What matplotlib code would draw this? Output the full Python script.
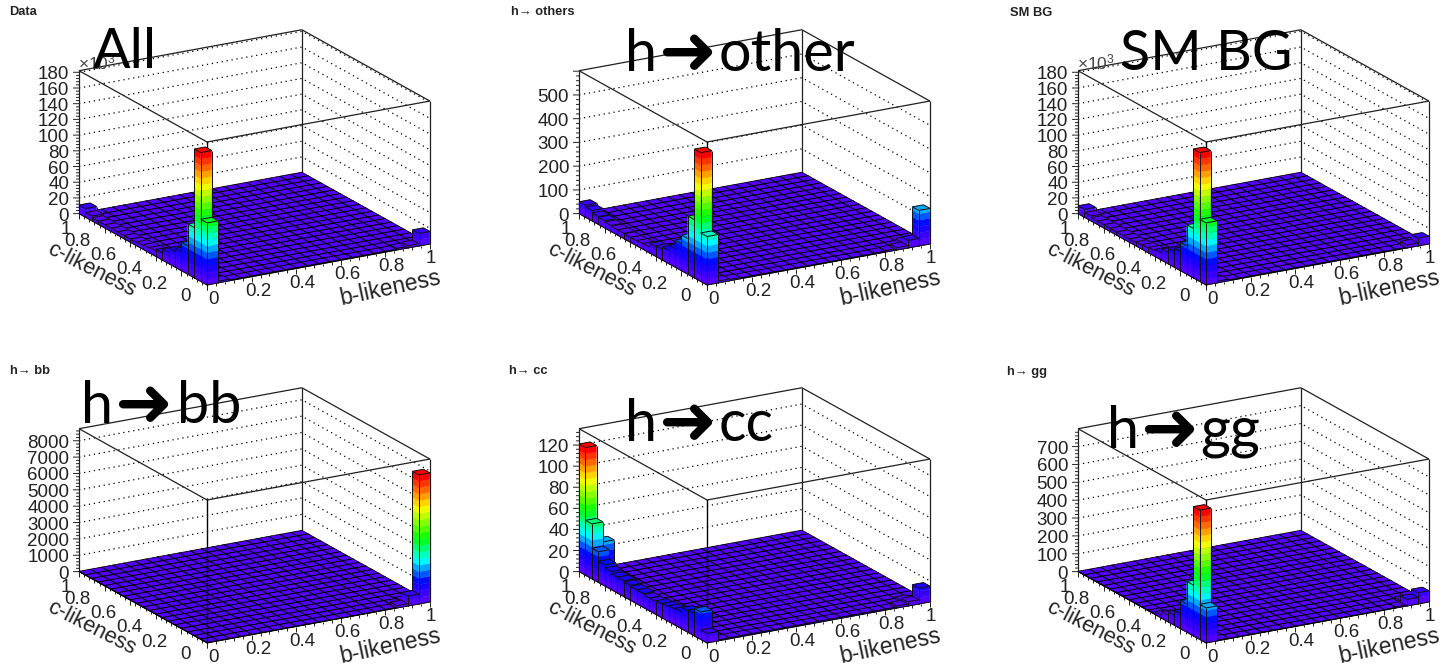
import numpy as np
import matplotlib
matplotlib.use("Agg")
import matplotlib.pyplot as plt
from matplotlib.colors import LinearSegmentedColormap
from mpl_toolkits.mplot3d import proj3d
from mpl_toolkits.mplot3d.art3d import Poly3DCollection, Line3DCollection

W, H = 1445, 664
N_BINS = 20

# ------- data -----------------------------
# panel order: Data, others, bb, cc, gg, SM BG
titles = ["Data", "h\u2192 others", "h\u2192 bb", "h\u2192 cc", "h\u2192 gg", "SM BG"]
big_left = ["All", "h", "h", "h", "h", "SM BG"]
big_right = ["", "other", "bb", "cc", "gg", ""]
z_tops = [182, 602, 8735, 135.5, 800, 182]
z_steps = [20, 100, 1000, 20, 100, 20]
z_last = [180, 500, 8000, 120, 700, 180]
floors = [0.6, 2, 20, 0.5, 2, 0.6]

# heights along c at the first b bin
all_c_row = [79, 164, 64, 36, 24, 20, 14, 9, 7, 6, 5, 4, 4, 4, 4, 4, 4, 4, 6, 11]
others_c_row = [204, 542, 245, 150, 114, 78, 55, 45, 40, 25, 22, 20, 20, 22, 22, 25, 30, 33, 43, 50]
bb_c_row = [20, 20, 20, 20, 20, 20, 20, 20, 20, 20, 20, 20, 20, 20, 20, 20, 20, 20, 20, 20]
cc_c_row = [9, 26, 21, 20, 16, 15, 14, 13, 12, 12, 13, 13, 14, 15, 15, 17, 20, 29, 52, 121]
gg_c_row = [196, 723, 284, 157, 84, 56, 35, 15, 5, 3, 2, 2, 2, 2, 2, 2, 2, 2, 2, 2]
smbg_c_row = [79, 164, 63, 36, 24, 20, 14, 9, 7, 6, 5, 4, 4, 4, 4, 4, 4, 4, 6, 10]

# heights along b at the first c bin
all_b_row = [79, 2, 1, 1, 1, 1, 1, 1, 1, 1, 1, 1, 1, 1, 1, 1, 1, 2, 3, 16]
others_b_row = [204, 8, 5, 4, 4, 3, 3, 3, 3, 3, 3, 3, 3, 3, 3, 4, 6, 10, 32, 150]
bb_b_row = [20, 20, 20, 20, 20, 20, 20, 20, 20, 20, 20, 20, 20, 20, 25, 30, 40, 150, 610, 7890]
cc_b_row = [9, 1, 1, 1, 1, 1, 1, 1, 1, 1, 1, 1, 1, 1, 1, 1, 1, 2, 4, 15]
gg_b_row = [196, 4, 2, 2, 2, 2, 2, 2, 2, 2, 2, 2, 2, 2, 2, 2, 3, 6, 37, 63]
smbg_b_row = [79, 2, 1, 1, 1, 1, 1, 1, 1, 1, 1, 1, 1, 1, 1, 1, 1, 1, 4, 10]

# a few cells off those two rows: b bin, c bin, height
others_extra = [(1, 1, 8), (18, 1, 10)]
bb_extra = [(18, 1, 100), (19, 1, 60), (17, 1, 30)]
cc_extra = [(1, 18, 33), (1, 19, 6), (1, 17, 6), (18, 1, 2)]
gg_extra = [(18, 1, 10)]

c_rows = [all_c_row, others_c_row, bb_c_row, cc_c_row, gg_c_row, smbg_c_row]
b_rows = [all_b_row, others_b_row, bb_b_row, cc_b_row, gg_b_row, smbg_b_row]
extras = [[], others_extra, bb_extra, cc_extra, gg_extra, []]

# ------- layout, in pixels of the picture --------
panel_dx = [0, 500, 0, 500, 999, 999]
panel_dy = [0, 0, 358, 358, 358, 0]
title_pos = [(9, 12), (511, 12), (10, 371), (509, 371), (1007, 372), (1010, 13)]
big_pos = [(93, 68), (625, 71), (81, 423), (625, 441), (1107, 448), (1120, 70)]
arrow_x = [None, 658, 114, 658, 1140, None]
right_x = [None, 719, 177, 719, 1200, None]
exp_pos = {0: (78, 62), 5: (1077, 62)}
AX_SIZE = 382
AX_LEFT = 58.3
AX_TOP = -28.5

rainbow = LinearSegmentedColormap.from_list(
    "root_rainbow",
    [(0.0, "#5400ff"), (0.15, "#0000ff"), (0.32, "#00ffff"), (0.5, "#00ff00"),
     (0.75, "#ffff00"), (1.0, "#ff0000")])

plt.rcParams["font.family"] = ["Liberation Sans", "DejaVu Sans"]
plt.rcParams["mathtext.default"] = "regular"
TEXT = "#222222"


def put_text(ax, b, c, z, s, dx, dy, **kw):
    # text at a 3d point, shifted by some pixels on the screen
    x2, y2, _ = proj3d.proj_transform(b, c, z, ax.get_proj())
    ax.annotate(s, (x2, y2), xytext=(dx, -dy - 2.5), textcoords="offset pixels",
                annotation_clip=False, zorder=5000, color=TEXT, **kw)


def band_color(z, hmax):
    k = min(int(z / hmax * 20), 19)
    return rainbow(k / 19)


def side_faces(x0, x1, y0, y1, h, hmax):
    polys, cols = [], []
    levels = [lv for lv in np.linspace(0, hmax, 21) if lv < h] + [h]
    for lo, hi in zip(levels[:-1], levels[1:]):
        col = band_color((lo + hi) / 2, hmax)
        polys.append([(x0, y0, lo), (x0, y1, lo), (x0, y1, hi), (x0, y0, hi)])
        polys.append([(x0, y0, lo), (x1, y0, lo), (x1, y0, hi), (x0, y0, hi)])
        cols += [col, col]
    return polys, cols


def top_face(x0, x1, y0, y1, h, hmax):
    return [(x0, y0, h), (x1, y0, h), (x1, y1, h), (x0, y1, h)], band_color(h * 0.999, hmax)


def draw_frame(ax, zt, step, last):
    z_major = np.arange(0, last + step / 2, step)
    z_minor = np.arange(0, zt, step / 5)
    # dotted grid on the two back walls
    for z in z_major:
        ax.plot([0, 1, 1], [1, 1, 0], [z, z, z], color="k", lw=0.9,
                ls=(0, (1, 3)), zorder=1)
    # box edges
    edges = [[(0, 1, zt), (1, 1, zt)], [(1, 1, zt), (1, 0, zt)],
             [(1, 0, zt), (0, 0, zt)], [(0, 0, zt), (0, 1, zt)],
             [(0, 1, 0), (0, 1, zt)], [(1, 1, 0), (1, 1, zt)],
             [(1, 0, 0), (1, 0, zt)]]
    ax.add_collection3d(Line3DCollection(edges, colors="#202020", linewidths=0.9, zorder=2))
    # front vertical sits on the floor but behind the bars
    ax.plot([0, 0], [0, 0], [0, zt], color="black", lw=1.0, zorder=4)
    # z ticks, horizontal on screen
    ticks = []
    for k, z in enumerate(z_minor):
        px = 6 if k % 5 == 0 else 3
        ticks.append([(0, 1, z), (-px / 296.6, 1 + 0.575 * px / 296.6, z)])
    # b and c ticks below the floor
    for k, v in enumerate(np.linspace(0, 1, 26)):
        t = zt * (0.035 if k % 5 == 0 else 0.018)
        ticks.append([(v, 0, 0), (v, 0, -t)])
        ticks.append([(0, v, 0), (0, v, -t)])
    ticks.append([(0, 0, 0), (1, 0, 0)])
    ticks.append([(0, 0, 0), (0, 1, 0)])
    ax.add_collection3d(Line3DCollection(ticks, colors="#202020", linewidths=0.7, zorder=2))

    for z in z_major:
        put_text(ax, 0, 1, z, f"{z:.0f}", -10, 0, ha="right", va="center", fontsize=13.5)
    for v in [0, 0.2, 0.4, 0.6, 0.8, 1]:
        lab = f"{v:g}"
        put_text(ax, v, 0, 0, lab, 6.4 if v < 1 else 1, 12, ha="center", va="center", fontsize=13.5)
        if v == 1:
            put_text(ax, 0, v, 0, lab, -13, 13, ha="center", va="center", fontsize=13.5)
        elif v == 0:
            put_text(ax, 0, v, 0, lab, -22, 9, ha="center", va="center", fontsize=13.5)
        else:
            put_text(ax, 0, v, 0, lab, -27, 11, ha="center", va="center", fontsize=13.5)
    put_text(ax, 0, 0.5, 0, "c-likeness", -52, 18.5, ha="center", va="center",
             fontsize=15.7, rotation=-27, rotation_mode="anchor")
    put_text(ax, 0.8, 0, 0, "b-likeness", 5.5, 33, ha="center", va="center",
             fontsize=16.4, rotation=12, rotation_mode="anchor")


def draw_lego(ax, heights, zt):
    hmax = heights.max()
    edges = np.linspace(0, 1, N_BINS + 1)
    small = zt * 0.012
    # floor tiles go in one collection
    polys, cols = [], []
    for i in range(N_BINS):
        for j in range(N_BINS):
            h = heights[i, j]
            if h >= small:
                continue
            x0, x1, y0, y1 = edges[i], edges[i + 1], edges[j], edges[j + 1]
            top, col = top_face(x0, x1, y0, y1, h, hmax)
            polys += [top,
                      [(x0, y0, 0), (x0, y1, 0), (x0, y1, h), (x0, y0, h)],
                      [(x0, y0, 0), (x1, y0, 0), (x1, y0, h), (x0, y0, h)]]
            cols += [col, col, col]
    ax.add_collection3d(Poly3DCollection(polys, facecolors=cols, edgecolors="black",
                                         linewidths=0.55, zorder=3))
    # taller bars back to front
    cells = [(i, j) for i in range(N_BINS) for j in range(N_BINS) if heights[i, j] >= small]
    cells.sort(key=lambda cell: -(cell[0] + cell[1]))
    for n, (i, j) in enumerate(cells):
        h = heights[i, j]
        x0, x1, y0, y1 = edges[i], edges[i + 1], edges[j], edges[j + 1]
        sides, side_cols = side_faces(x0, x1, y0, y1, h, hmax)
        top, top_col = top_face(x0, x1, y0, y1, h, hmax)
        polys = sides + [top]
        cols = side_cols + [top_col]
        ax.add_collection3d(Poly3DCollection(polys, facecolors=cols, edgecolors=cols,
                                             linewidths=0.2, zorder=10 + 2 * n))
        lines = [[(x0, y1, 0), (x0, y1, h)], [(x0, y0, 0), (x0, y0, h)], [(x1, y0, 0), (x1, y0, h)],
                 [(x0, y1, h), (x0, y0, h)], [(x0, y0, h), (x1, y0, h)],
                 [(x1, y0, h), (x1, y1, h)], [(x1, y1, h), (x0, y1, h)],
                 [(x0, y1, 0), (x0, y0, 0)], [(x0, y0, 0), (x1, y0, 0)]]
        ax.add_collection3d(Line3DCollection(lines, colors="#101010", linewidths=0.7,
                                             zorder=11 + 2 * n))


fig = plt.figure(figsize=(W / 100, H / 100), dpi=100, facecolor="white")

for p in range(6):
    zt = z_tops[p]
    left = (AX_LEFT + panel_dx[p]) / W
    bottom = 1 - (AX_TOP + panel_dy[p] + AX_SIZE) / H
    ax = fig.add_axes([left, bottom, AX_SIZE / W, AX_SIZE / H], projection="3d",
                      proj_type="ortho", computed_zorder=False)
    ax.view_init(elev=18.66, azim=-119.88)
    ax.set_box_aspect((1, 1, 0.587))
    ax.set_xlim(0, 1)
    ax.set_ylim(0, 1)
    ax.set_zlim(0, zt)
    ax.set_axis_off()
    ax.patch.set_visible(False)

    heights = np.full((N_BINS, N_BINS), float(floors[p]))
    heights[:, 0] = b_rows[p]
    heights[0, :] = c_rows[p]
    for i, j, v in extras[p]:
        heights[i, j] = v

    draw_frame(ax, zt, z_steps[p], z_last[p])
    draw_lego(ax, heights, zt)

    fig.text(title_pos[p][0] / W, 1 - title_pos[p][1] / H, titles[p], fontsize=9.3,
             fontweight="bold", va="center", color="#222222")
    if p in exp_pos:
        fig.text(exp_pos[p][0] / W, 1 - exp_pos[p][1] / H, "\u00d710$^{3}$", fontsize=12.5,
                 va="center", color="#444444", zorder=20)
    # overlaid labels, the arrow is a separate heavier glyph
    x0, y0 = big_pos[p]
    big_size = 40 if arrow_x[p] is None else 41.5
    fig.text(x0 / W, 1 - y0 / H, big_left[p], fontsize=big_size,
             family=["Lato", "DejaVu Sans"], va="baseline", color="black", zorder=30)
    if arrow_x[p] is not None:
        fig.text(arrow_x[p] / W, 1 - (y0 - 23) / H, "\u279c", fontsize=50,
                 family="DejaVu Sans", va="center_baseline", color="black", zorder=30)
        fig.text(right_x[p] / W, 1 - y0 / H, big_right[p], fontsize=big_size,
                 family=["Lato", "DejaVu Sans"], va="baseline", color="black", zorder=30)

fig.savefig("out.png", dpi=100)
